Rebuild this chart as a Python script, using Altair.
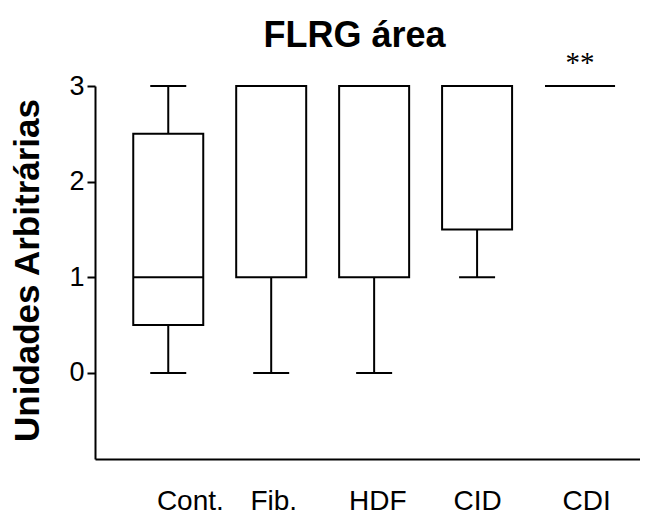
import altair as alt
import pandas as pd

# ---- data ----
groups = ["Cont.", "Fib.", "HDF", "CID", "CDI"]
positions = [1, 2, 3, 4, 5]
label_positions = [1.21, 2.02, 3.03, 4.0, 5.06]
mins = [0, 0, 0, 1, 3]
q1s = [0.5, 1, 1, 1.5, 3]
medians = [1, 3, 3, 3, 3]
q3s = [2.5, 3, 3, 3, 3]
maxs = [3, 3, 3, 3, 3]
sig_marks = ["", "", "", "", "**"]
y_ticks = [0, 1, 2, 3]

df = pd.DataFrame(dict(group=groups, pos=positions, lo=mins, q1=q1s,
                       med=medians, q3=q3s, hi=maxs, sig=sig_marks))

x_scale = alt.Scale(domain=[0.337, 5.534], nice=False, zero=False)
y_scale = alt.Scale(domain=[-0.9, 3], nice=False, zero=False)

label_expr = " : ".join(
    f"abs(datum.value - {p}) < 0.001 ? '{g}'" for p, g in zip(label_positions, groups)
) + " : ''"

x_axis = alt.Axis(values=label_positions, labelExpr=label_expr, ticks=False, grid=False,
                  title=None, domainColor="black", domainWidth=2,
                  labelFont="Liberation Sans", labelFontSize=28, labelColor="black",
                  labelBaseline="alphabetic", labelPadding=50, labelAlign="center",
                  labelFlush=False, labelOverlap=False)
y_axis = alt.Axis(values=y_ticks, format="d", grid=False,
                  title="Unidades Arbitrárias", titleFont="Liberation Sans",
                  titleFontWeight="bold", titleFontSize=35, titleColor="black",
                  titleX=-57, titleY=184, titleAngle=-90, titleBaseline="alphabetic",
                  titleAlign="center",
                  tickSize=8, tickWidth=2, tickColor="black",
                  domainColor="black", domainWidth=2,
                  labelFont="Liberation Sans", labelFontSize=27, labelColor="black",
                  labelPadding=3)

base = alt.Chart(df)
x_enc = alt.X("pos:Q", scale=x_scale, axis=x_axis)

whisker = base.mark_rule(color="black", strokeWidth=2).encode(
    x=x_enc, y=alt.Y("lo:Q", scale=y_scale, axis=y_axis), y2="hi:Q")
box = base.mark_bar(size=70, fill="white", stroke="black", strokeWidth=2).encode(
    x=alt.X("pos:Q", scale=x_scale), y=alt.Y("q1:Q", scale=y_scale), y2="q3:Q")
median = base.mark_tick(orient="horizontal", size=70, thickness=2, color="black",
                        opacity=1).encode(
    x=alt.X("pos:Q", scale=x_scale), y=alt.Y("med:Q", scale=y_scale))
cap_lo = base.mark_tick(orient="horizontal", size=36, thickness=2, color="black",
                        opacity=1).encode(
    x=alt.X("pos:Q", scale=x_scale), y=alt.Y("lo:Q", scale=y_scale))
cap_hi = base.mark_tick(orient="horizontal", size=36, thickness=2, color="black",
                        opacity=1).encode(
    x=alt.X("pos:Q", scale=x_scale), y=alt.Y("hi:Q", scale=y_scale))
sig = base.mark_text(font="Liberation Serif", fontSize=29, color="black",
                     baseline="alphabetic", dy=-14).encode(
    x=alt.X("pos:Q", scale=x_scale), y=alt.Y("hi:Q", scale=y_scale), text="sig:N")

chart = alt.layer(whisker, box, median, cap_lo, cap_hi, sig).properties(
    width=545, height=373,
    title=alt.TitleParams("FLRG área", font="Liberation Sans",
                          fontSize=36, fontWeight="bold", color="black", anchor="middle",
                          frame="group", baseline="alphabetic", offset=-34, dx=-13),
    autosize=alt.AutoSizeParams(type="none"),
    padding={"left": 87, "top": 78, "right": 0, "bottom": 62},
).configure(background="white").configure_view(stroke=None)

chart.save("out.html", embed_options={"renderer": "svg", "actions": False})
